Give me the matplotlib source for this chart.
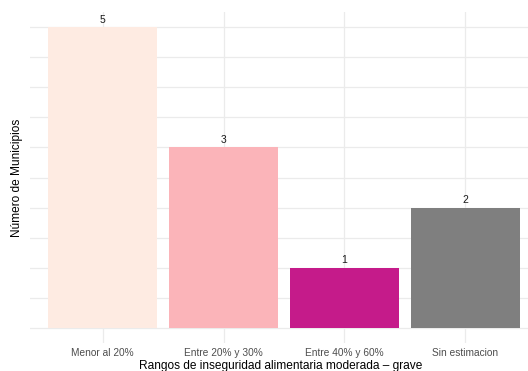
import numpy as np
import matplotlib
matplotlib.use('Agg')
from matplotlib import pyplot as plt

plt.rcParams['font.family'] = ['Liberation Sans', 'DejaVu Sans']

# data
categorias = ['Menor al 20%', 'Entre 20% y 30%', 'Entre 40% y 60%', 'Sin estimacion']
municipios = [5, 3, 1, 2]
colores = ['#FEEBE2', '#FBB4B9', '#C51B8A', '#7F7F7F']

fig = plt.figure(figsize=(5.28, 3.71), dpi=100)
# panel runs a bit past the right edge, like the original
ax = fig.add_axes([30/528, 28.3/371, 508/528, 330.4/371])

x = np.arange(1, len(categorias) + 1)
ax.bar(x, municipios, width=0.9, color=colores, zorder=2)

for xi, v in zip(x, municipios):
    ax.annotate(str(v), (xi, v), xytext=(0, 2), textcoords='offset points',
                ha='center', va='bottom', fontsize=7.5, color='#1a1a1a')

ax.set_xlim(0.4, 4.6)
ax.set_ylim(-0.25, 5.25)
ax.set_xticks(x)
ax.set_xticklabels(categorias, fontsize=7.3, color='#4d4d4d')
ax.set_yticks(np.arange(0, 5.01, 0.5))
ax.set_yticklabels([])
ax.tick_params(length=0, pad=4)
ax.grid(True, color='#ebebeb', linewidth=0.9, zorder=0)
ax.set_axisbelow(True)
for s in ax.spines.values():
    s.set_visible(False)

fig.text(281/528, 1 - 366/371, 'Rangos de inseguridad alimentaria moderada – grave',
         ha='center', va='center', fontsize=8.6, color='black')
fig.text(17/528, 1 - 178/371, 'Número de Municipios', rotation=90,
         ha='center', va='center', fontsize=8.6, color='black')

fig.savefig('out.png', dpi=100)
